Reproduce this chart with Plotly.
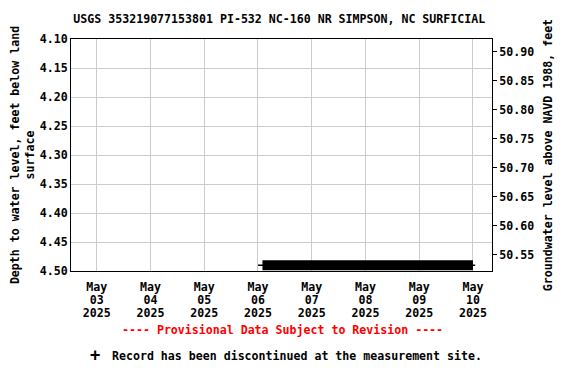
import plotly.graph_objects as go

# Data
times = ["2025-05-06 02:00", "2025-05-07 00:00", "2025-05-08 00:00", "2025-05-09 00:00", "2025-05-10 00:00"]
depth = [4.49, 4.49, 4.49, 4.49, 4.49]
span_times = ["2025-05-06 00:00", "2025-05-10 01:00"]
land_surface_datum = 55.022
tick_vals = ["2025-05-03", "2025-05-04", "2025-05-05", "2025-05-06", "2025-05-07", "2025-05-08", "2025-05-09", "2025-05-10"]
tick_month = ["May"] * 8
tick_day = ["03", "04", "05", "06", "07", "08", "09", "10"]
tick_year = ["2025"] * 8
left_ticks = [4.10, 4.15, 4.20, 4.25, 4.30, 4.35, 4.40, 4.45, 4.50]
right_ticks = [50.55, 50.60, 50.65, 50.70, 50.75, 50.80, 50.85, 50.90]

FONT = "DejaVu Sans Mono"
TF = 11.6
XRANGE = ["2025-05-02 12:30", "2025-05-10 08:30"]

# page body has an 8px margin; compensate
OFF = 8
W, H = 576 - OFF, 384 - OFF
L, T = 71 - OFF, 39 - OFF
R = 84
B = H - (271 - OFF)

fig = go.Figure()
fig.add_trace(go.Scatter(x=span_times, y=[depth[0], depth[-1]], mode="lines",
                         line=dict(color="black", width=1.5), showlegend=False, hoverinfo="skip"))
fig.add_trace(go.Scatter(x=times, y=depth, mode="lines", line=dict(color="black", width=10),
                         showlegend=False))
fig.add_trace(go.Scatter(x=times, y=[land_surface_datum - d for d in depth], mode="lines",
                         line=dict(color="rgba(0,0,0,0)", width=0), yaxis="y2", showlegend=False,
                         hoverinfo="skip"))
for ax in ["x2", "x3"]:
    fig.add_trace(go.Scatter(x=times, y=depth, mode="lines", xaxis=ax, yaxis="y",
                             line=dict(color="rgba(0,0,0,0)", width=0), showlegend=False,
                             hoverinfo="skip"))

def bold(lst):
    return ["<b>%s</b>" % s for s in lst]

common_x = dict(range=XRANGE, tickvals=tick_vals, ticks="", tickfont=dict(size=TF, family=FONT))

fig.update_layout(
    width=W, height=H,
    margin=dict(l=L, r=R, t=T, b=B, autoexpand=False),
    paper_bgcolor="white", plot_bgcolor="white",
    font=dict(family=FONT, size=11, color="black"),
    title=dict(text="<b>USGS 353219077153801 PI-532 NC-160 NR SIMPSON, NC SURFICIAL</b>",
               x=(289 - OFF) / W, xanchor="center", xref="paper", y=1 - (19 - OFF) / H, yanchor="middle",
               font=dict(size=11.6, family=FONT)),
    xaxis=dict(**common_x, ticktext=bold(tick_month), ticklabelstandoff=5,
               showgrid=True, gridcolor="#cccccc", gridwidth=1, showline=True,
               linecolor="black", linewidth=1, mirror=True),
    xaxis2=dict(**common_x, ticktext=bold(tick_day), ticklabelstandoff=20, overlaying="x",
                anchor="y", showgrid=False, showline=False),
    xaxis3=dict(**common_x, ticktext=bold(tick_year), ticklabelstandoff=33, overlaying="x",
                anchor="y", showgrid=False, showline=False),
    yaxis=dict(range=[4.50, 4.10], tickvals=left_ticks,
               ticktext=["<b>%.2f</b>" % v for v in left_ticks],
               showgrid=True, gridcolor="#cccccc", showline=True, linecolor="black", linewidth=1,
               mirror=True, ticks="", zeroline=False, automargin=True,
               title=dict(text="<b>Depth to water level, feet below land<br>surface</b>",
                          font=dict(size=11.6, family=FONT), standoff=6),
               tickfont=dict(size=TF, family=FONT)),
    yaxis2=dict(range=[land_surface_datum - 4.50, land_surface_datum - 4.10], overlaying="y", side="right",
                tickvals=right_ticks, ticktext=["<b>%.2f</b>" % v for v in right_ticks],
                showgrid=False, ticks="outside", ticklen=4, tickcolor="black", zeroline=False,
                title=dict(text="<b>Groundwater level above NAVD 1988, feet</b>",
                           font=dict(size=11.6, family=FONT), standoff=10),
                tickfont=dict(size=TF, family=FONT)),
)

plot_h = H - T - B
plot_w = W - L - R
def px_to_paper(px, py):
    return (px - OFF - L) / plot_w, (T + plot_h - (py - OFF)) / plot_h

ax_, ay_ = px_to_paper(282, 330)
bx_, by_ = px_to_paper(297, 356)
px_, py_ = px_to_paper(88, 355)
fig.add_annotation(text="<b>---- Provisional Data Subject to Revision ----</b>", x=ax_, y=ay_,
                   xref="paper", yref="paper", showarrow=False, yanchor="middle",
                   font=dict(color="red", size=11.6, family=FONT))
fig.add_annotation(text="<b>Record has been discontinued at the measurement site.</b>", x=bx_, y=by_,
                   xref="paper", yref="paper", showarrow=False, yanchor="middle",
                   font=dict(size=11.6, family=FONT))
fig.add_annotation(text="<b>+</b>", x=px_, y=py_, xref="paper", yref="paper", showarrow=False,
                   yanchor="middle", font=dict(size=17, family=FONT))

fig.write_html("out.html")
